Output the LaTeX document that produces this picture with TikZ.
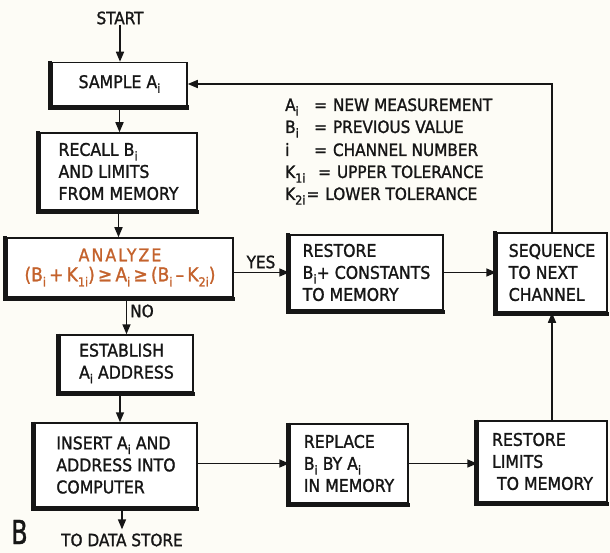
\documentclass[tikz,border=0pt]{standalone}
\usepackage{fontspec}
\usepackage{graphicx}
\setmainfont{DejaVu Sans Condensed}[FakeBold=1.3]
\newfontfamily\spaced{DejaVu Sans Condensed}[FakeBold=1.3,LetterSpace=12]
\usetikzlibrary{arrows.meta}
\newcommand\sbi[1]{\raisebox{-0.5ex}{\fontsize{12.5}{12.5}\selectfont #1}}
\definecolor{paper}{RGB}{253,252,246}
\definecolor{ink}{RGB}{22,22,22}
\definecolor{rust}{RGB}{196,98,44}
\begin{document}
\begin{tikzpicture}[x=1pt,y=-1pt,
  box/.style={draw=ink, line width=1.5pt, fill=white, align=left, inner sep=0pt,
              font=\fontsize{17.5}{22}\selectfont, text=ink},
  arr/.style={draw=ink, line width=1.5pt, -{Triangle[length=10pt,width=8pt]}},
  lbl/.style={font=\fontsize{17}{22}\selectfont, text=ink, inner sep=0pt},
  leg/.style={font=\fontsize{17}{22}\selectfont, text=ink, inner sep=0pt, anchor=base west},
  shadow/.style={draw=ink, line width=4.5pt}
  ]
\useasboundingbox[fill=paper] (0,0) rectangle (610,553);

% boxes
\node[box, minimum width=135pt, minimum height=43pt] (sample) at (119.5,84) {SAMPLE A\sbi{i}};
\node[box, minimum width=157pt, minimum height=77pt] (recall) at (118.5,171.5)
  {RECALL B\sbi{i}\\AND LIMITS\\FROM MEMORY};
\node[box, minimum width=226pt, minimum height=59pt, align=center, text=rust] (analyze) at (120,267.5)
  {{\spaced ANALYZE}\\[-2pt]{\fontsize{19}{22}\selectfont(B\sbi{i}\,+\,K\sbi{1i})\,≥\,A\sbi{i}\,≥\,(B\sbi{i}\,–\,K\sbi{2i})}};
\node[box, minimum width=133pt, minimum height=57pt] (establish) at (126.5,363.5)
  {ESTABLISH\\A\sbi{i} ADDRESS};
\node[box, minimum width=162pt, minimum height=84pt] (insert) at (116,465)
  {INSERT A\sbi{i} AND\\ADDRESS INTO\\COMPUTER};
\node[box, minimum width=153pt, minimum height=75pt] (restoreb) at (366.5,272.5)
  {RESTORE\\B\sbi{i}+ CONSTANTS\\TO MEMORY};
\node[box, minimum width=110pt, minimum height=79pt] (sequence) at (552,272.5)
  {SEQUENCE\\TO NEXT\\CHANNEL};
\node[box, minimum width=118pt, minimum height=79pt] (replace) at (349,463.5)
  {REPLACE\\B\sbi{i} BY A\sbi{i}\\IN MEMORY};
\node[box, minimum width=129pt, minimum height=81pt] (rlim) at (542.5,461.5)
  {RESTORE\\LIMITS\\\ TO MEMORY};

% shadow edges (thick left and bottom)
\foreach \n in {sample,recall,analyze,establish,insert,restoreb,sequence,replace,rlim}
  \draw[shadow] ([xshift=-1.2pt,yshift=0.75pt]\n.north west) -- ([xshift=-1.2pt,yshift=-1.2pt]\n.south west)
                -- ([xshift=0.75pt,yshift=-1.2pt]\n.south east);

% free labels
\node[lbl] (start) at (120,18) {START};
\node[lbl] (store) at (122,540) {TO DATA STORE};
\node[lbl] (yes) at (261,262) {YES};
\node[lbl] (no) at (142,311) {NO};
\node[font=\fontsize{33}{33}\selectfont, text=ink, inner sep=0pt] (fig) at (19.5,532)
  {\scalebox{0.8}[1]{B}};

% legend
\node[leg] (l1) at (285,111) {\makebox[29pt][l]{A\sbi{i}}=\kern6pt NEW MEASUREMENT};
\node[leg] (l2) at (285,133) {\makebox[29pt][l]{B\sbi{i}}=\kern6pt PREVIOUS VALUE};
\node[leg] (l3) at (285,156) {\makebox[29pt][l]{i}=\kern6pt CHANNEL NUMBER};
\node[leg] (l4) at (285,178) {\makebox[33pt][l]{K\sbi{1i}}=\kern6pt UPPER TOLERANCE};
\node[leg] (l5) at (285,200) {K\sbi{2i}\kern1pt=\kern6pt LOWER TOLERANCE};

% connectors
\draw[arr] (start.south) -- (start.south |- sample.north);
\draw[arr] (sample.south) -- (sample.south |- recall.north);
\draw[arr] (recall.south) -- (recall.south |- analyze.north);
\draw[arr] (analyze.south -| establish.north) -- (establish.north);
\draw[arr] (establish.south -| analyze.south) -- (analyze.south |- insert.north);
\draw[arr] (insert.south -| store.north) -- ([yshift=4pt]store.north);
\draw[arr] (analyze.east |- restoreb.west) -- (restoreb.west);
\draw[arr] (restoreb.east) -- (sequence.west);
\draw[arr] (sequence.north) |- (sample.east);
\draw[arr] (insert.east |- replace.west) -- (replace.west);
\draw[arr] (replace.east) -- (replace.east -| rlim.west);
\draw[arr] (rlim.north -| sequence.south) -- (sequence.south);
\end{tikzpicture}
\end{document}
